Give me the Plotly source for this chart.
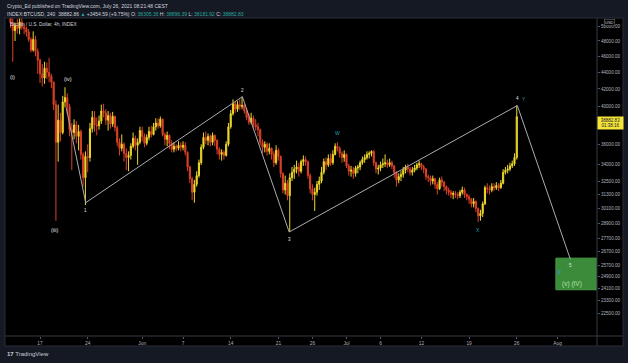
import math
import plotly.graph_objects as go
import pandas as pd

# ---------------- data (8h candles) ----------------
first_open = 56300
closes = [
    56200, 50500,                      # May 12 (08h,16h)
    49400, 50100, 49700,               # May 13
    50600, 49900, 49700,               # May 14
    49200, 48200, 46800,               # May 15
    48200, 46600, 45500,               # May 16
    43800, 43300, 44500,               # May 17
    44000, 43500, 42800,               # May 18
    40200, 36200, 38500,               # May 19
    37200, 40500, 41000,               # May 20
    40000, 37500, 37200,               # May 21
    38000, 36800, 37300,               # May 22
    35000, 32800, 34800,               # May 23
    34700, 37600, 38800,               # May 24
    38000, 37900, 38400,               # May 25
    39500, 39300, 38500,               # May 26
    39000, 38100, 38900,               # May 27
    37700, 36200, 35600,               # May 28
    36000, 35100, 34700,               # May 29
    34900, 35800, 36600,               # May 30
    35900, 36200, 37400,               # May 31
    36800, 36100, 36700,               # Jun 1
    37300, 37000, 37800,               # Jun 2
    38200, 37900, 38600,               # Jun 3
    37000, 36500, 36900,               # Jun 4
    36100, 35500, 35800,               # Jun 5
    35600, 35900, 35700,               # Jun 6
    35900, 35200, 33800,               # Jun 7
    32700, 31500, 32200,               # Jun 8
    33000, 34200, 35700,               # Jun 9
    36700, 36400, 36800,               # Jun 10
    36200, 36900, 36400,               # Jun 11
    35500, 35000, 35200,               # Jun 12
    34900, 36000, 37800,               # Jun 13
    39200, 40300, 39700,               # Jun 14
    40200, 40000, 40100,               # Jun 15
    39500, 38800, 38300,               # Jun 16
    38700, 38000, 37800,               # Jun 17
    37500, 36200, 35700,               # Jun 18
    36000, 35300, 35600,               # Jun 19
    35000, 34200, 35400,               # Jun 20
    34800, 33200, 31700,               # Jun 21
    32300, 31200, 32800,               # Jun 22
    33300, 33600, 33800,               # Jun 23
    33400, 34300, 34500,               # Jun 24
    34300, 33000, 31800,               # Jun 25
    31300, 31500, 32200,               # Jun 26
    32500, 33300, 34300,               # Jun 27
    34000, 34600, 34200,               # Jun 28
    35000, 35800, 35600,               # Jun 29
    35100, 34700, 35000,               # Jun 30
    33900, 33400, 33500,               # Jul 1
    33200, 33700, 33800,               # Jul 2
    34200, 34500, 34700,               # Jul 3
    35000, 35100, 35300,               # Jul 4
    34200, 33600, 33700,               # Jul 5
    34000, 34100, 34200,               # Jul 6
    34000, 34200, 33900,               # Jul 7
    33300, 32600, 32900,               # Jul 8
    33100, 33500, 33800,               # Jul 9
    33600, 33300, 33500,               # Jul 10
    33700, 34000, 34100,               # Jul 11
    33800, 33600, 32900,               # Jul 12
    32800, 32500, 32700,               # Jul 13
    32200, 31800, 32600,               # Jul 14
    32400, 32000, 31700,               # Jul 15
    31500, 31300, 31400,               # Jul 16
    31300, 31200, 31500,               # Jul 17
    31700, 31300, 31100,               # Jul 18
    30900, 30500, 30700,               # Jul 19
    30100, 29500, 29700,               # Jul 20
    30500, 31900, 31800,               # Jul 21
    31700, 32000, 31900,               # Jul 22
    32100, 31900, 32300,               # Jul 23
    33300, 33500, 33600,               # Jul 24
    33900, 34100, 34700,               # Jul 25
    38882.83,                          # Jul 26
]
highs = [
    57900, 56400,
    51300, 50500, 51000,
    51200, 51300, 50400,
    50000, 49600, 48500,
    49300, 48700, 47000,
    45700, 45000, 45300,
    45200, 45800, 43800,
    42900, 40700, 40200,
    39300, 41200, 42200,
    41500, 40300, 38200,
    38600, 38400, 38000,
    37500, 35200, 35300,
    36000, 38200, 39500,
    39500, 38800, 39000,
    40200, 40300, 39700,
    39500, 39300, 39400,
    39000, 37900, 36600,
    37000, 36200, 35600,
    35300, 36100, 37200,
    36900, 36600, 37800,
    37800, 37100, 37000,
    37800, 37900, 38200,
    38700, 38700, 38900,
    38700, 37200, 37300,
    37000, 36400, 36200,
    36000, 36300, 36200,
    36300, 36200, 35300,
    33900, 32900, 32600,
    33400, 34500, 36000,
    37200, 37300, 37100,
    37000, 37200, 37000,
    36500, 35700, 35500,
    35400, 36300, 38200,
    39600, 40800, 40600,
    40600, 40800, 41100,
    40300, 39800, 39200,
    39300, 39000, 38600,
    38200, 37600, 36500,
    36300, 36200, 36100,
    35700, 35300, 35900,
    35600, 34900, 33300,
    33000, 32600, 33200,
    33800, 34000, 34400,
    34200, 34500, 34900,
    34800, 34400, 33200,
    32200, 31900, 32500,
    32900, 33800, 34600,
    34700, 35000, 35100,
    35400, 36100, 36200,
    35800, 35300, 35400,
    35100, 34100, 33900,
    33800, 33900, 34000,
    34400, 34800, 35000,
    35300, 35300, 35400,
    35400, 34300, 34000,
    34300, 34600, 35000,
    34500, 34600, 34400,
    34000, 33400, 33200,
    33400, 33800, 34000,
    34100, 33800, 33800,
    34000, 34200, 34400,
    34200, 34000, 33700,
    33100, 33000, 33000,
    32800, 32400, 32800,
    32900, 32500, 32100,
    31900, 31700, 31600,
    31600, 31500, 31700,
    32000, 31900, 31400,
    31300, 31000, 31000,
    30800, 30200, 30000,
    30700, 32100, 32300,
    32100, 32300, 32300,
    32400, 32300, 32600,
    33600, 33800, 34000,
    34200, 34400, 35100,
    40100,
]
lows = [
    55500, 49800,
    45300, 48000, 49000,
    48900, 49500, 48900,
    48600, 47900, 46500,
    46600, 46000, 43800,
    42700, 42300, 42600,
    43200, 42800, 42100,
    39600, 29100, 34300,
    36300, 37000, 39900,
    39200, 36800, 33500,
    36500, 36100, 35400,
    34500, 32000, 30400,
    33300, 34300, 37200,
    37300, 36900, 37500,
    38100, 38800, 38000,
    37400, 37600, 37800,
    37300, 35800, 34900,
    35300, 34300, 33500,
    33400, 34500, 35600,
    35400, 34000, 36000,
    36300, 35700, 35900,
    36400, 36700, 36900,
    37400, 37600, 37700,
    36800, 35900, 35800,
    35500, 35200, 35200,
    35300, 35400, 35300,
    35400, 34900, 33400,
    32300, 30800, 30600,
    32000, 32800, 34000,
    35500, 36000, 35900,
    35800, 35900, 35800,
    35000, 34500, 34400,
    34500, 34800, 35800,
    37600, 39000, 39300,
    39400, 39600, 39700,
    39200, 38500, 38000,
    38100, 37700, 37400,
    36800, 35900, 35100,
    35200, 34900, 35000,
    34500, 33800, 34000,
    34400, 32800, 31400,
    31300, 30800, 28200,
    32500, 32700, 33200,
    32900, 33200, 33900,
    33900, 32700, 31400,
    30800, 29900, 31200,
    31700, 32300, 33100,
    33500, 33800, 33900,
    34000, 34900, 35300,
    34700, 34200, 34300,
    33700, 33000, 32900,
    32700, 32900, 33200,
    33500, 34000, 34200,
    34500, 34600, 34800,
    33900, 33200, 33100,
    33400, 33700, 33800,
    33700, 33800, 33600,
    32800, 32000, 32300,
    32500, 32800, 33200,
    33300, 33000, 33000,
    33300, 33500, 33700,
    33500, 33200, 32600,
    32400, 32100, 32200,
    31800, 31300, 31700,
    32000, 31600, 31300,
    31200, 31000, 30900,
    31000, 30900, 31000,
    31300, 31000, 30800,
    30500, 30200, 30200,
    29800, 29000, 29100,
    29400, 30400, 31400,
    31300, 31500, 31600,
    31700, 31600, 31800,
    32200, 33100, 33200,
    33400, 33700, 33900,
    34500,
]
opens = [first_open] + closes[:-1]
times = pd.date_range("2021-05-12 08:00", periods=len(closes), freq="8h")

# Elliott wave path (iv) -> 1 -> 2 -> 3 -> 4 -> 5
wave_dates = ["2021-05-20 20:00", "2021-05-23 17:00", "2021-06-15 17:00",
              "2021-06-22 14:00", "2021-07-26 02:00", "2021-08-02 20:40"]
wave_prices = [39900, 30600, 41100, 28200, 40100, 26150]
wave_names = ["", "1", "2", "3", "4", "5"]

# target zone
zone_start = "2021-07-31 18:00"
zone_end = "2021-08-08 00:00"
zone_high = 26220
zone_low = 24010

price_ticks = [50000, 48000, 46000, 44000, 42000, 40000, 36000, 34000, 32500,
               31300, 30100, 28900, 27700, 26700, 25700, 24900, 24100, 23300, 22500]
price_tick_labels = [f"{v:.2f}" for v in price_ticks]
date_ticks = ["2021-05-17", "2021-05-24", "2021-06-01", "2021-06-07", "2021-06-14",
              "2021-06-21", "2021-06-26", "2021-07-01", "2021-07-06", "2021-07-12",
              "2021-07-19", "2021-07-26", "2021-08-01"]
date_tick_labels = ["17", "24", "Jun", "7", "14", "21", "26", "Jul", "6", "12", "19", "26", "Aug"]
last_price = 38882.83

# ---------------- styling ----------------
FONT = "Liberation Sans, Arial, sans-serif"
INC = "#ecd82a"
DEC = "#dd4128"
TEAL = "#22a6b3"
GRAYTXT = "#b2b5be"
NAVY = "#151924"
SEP = "#363a45"

fig = go.Figure()
fig.add_trace(go.Candlestick(
    x=times, open=opens, high=highs, low=lows, close=closes,
    increasing=dict(line=dict(color=INC, width=1), fillcolor=INC),
    decreasing=dict(line=dict(color=DEC, width=1), fillcolor=DEC),
    whiskerwidth=0, showlegend=False, hoverinfo="skip"))

fig.add_trace(go.Scatter(
    x=wave_dates, y=wave_prices, mode="lines",
    line=dict(color="#a9acb4", width=1), showlegend=False, hoverinfo="skip"))

shapes = [
    dict(type="rect", xref="paper", yref="paper", x0=0, x1=1.0439, y0=-0.0315, y1=1.0,
         fillcolor="#000000", line=dict(width=0), layer="below"),
    dict(type="rect", xref="x", yref="y", x0=zone_start, x1=zone_end,
         y0=zone_low, y1=zone_high, fillcolor="#3b8b3a", line=dict(color="#4a9e47", width=1),
         layer="below"),
    dict(type="line", xref="paper", yref="paper", x0=1.0, x1=1.0, y0=-0.0315, y1=1.0,
         line=dict(color=SEP, width=1)),
    dict(type="line", xref="paper", yref="paper", x0=0, x1=1.0439, y0=0.0, y1=0.0,
         line=dict(color=SEP, width=1)),
    dict(type="rect", xref="paper", yref="paper", x0=0, x1=1.0439, y0=-0.0315, y1=1.0,
         line=dict(color="#2a2e39", width=1)),
]

ann = []
def txt(text, x, y, size=5, color="#d1d4dc", xref="x", yref="y", xanchor="center",
        yanchor="middle", xshift=0, yshift=0, **kw):
    if yref == "y":
        y = math.log10(y)  # annotations on a log axis take log10 positions
    ann.append(dict(text=text, x=x, y=y, xref=xref, yref=yref, showarrow=False,
                    xanchor=xanchor, yanchor=yanchor, xshift=xshift, yshift=yshift,
                    font=dict(family=FONT, size=size, color=color), **kw))

# header
txt("Crypto_Ed published on TradingView.com, July 26, 2021 08:21:48 CEST",
    0, 1.0377, size=5, color="#d1d4dc", xref="paper", yref="paper", xanchor="left")
hdr2 = ('INDEX:BTCUSD, 240 &nbsp;38882.86 <span style="color:#26a69a">▲</span> +3454.59 (+9.75%) '
        'O: <span style="color:#26a69a">38305.36</span> H: <span style="color:#26a69a">38896.39</span> '
        'L: <span style="color:#26a69a">38181.92</span> C: <span style="color:#26a69a">38882.83</span>')
txt(hdr2, 0, 1.0126, size=5, color="#d1d4dc", xref="paper", yref="paper", xanchor="left")
txt("Bitcoin / U.S. Dollar, 4h, INDEX", 0.005, 0.9796, size=4.8, color="#d1d4dc",
    xref="paper", yref="paper", xanchor="left")
txt("<b>17</b> TradingView", 0, -0.0566, size=6, color="#c9ccd4",
    xref="paper", yref="paper", xanchor="left")

# wave labels
txt("(i)", "2021-05-13 00:45", 43400, size=5.5, color="#e6e6e6")
txt("(iv)", "2021-05-21 01:40", 43170, size=5.5, color="#e6e6e6")
txt("(iii)", "2021-05-19 01:25", 28390, size=5.5, color="#e6e6e6")
wave_shift = [0, -8, 6, -7, 7, -6]
for d, p, n, s in zip(wave_dates, wave_prices, wave_names, wave_shift):
    if n:
        txt(n, d, p, size=4.5, color="#e6e6e6", yshift=s)
txt("W", "2021-06-29 16:00", 36150, size=5, color=TEAL, yshift=10)
txt("X", "2021-07-20 08:00", 28900, size=5, color=TEAL, yshift=-7)
txt("Y", wave_dates[4], wave_prices[4], size=5, color=TEAL, xshift=7, yshift=7)
txt("Z", "2021-08-01 06:00", 25250, size=5, color="#4a8cff")
txt("(v) (IV)", "2021-08-03 02:40", 24390, size=6.5, color="#b9e0b0")

# price label and USD badge
txt("38882.83<br>01:38:16", 1.0, last_price, size=4.5, color="#131722", xref="paper",
    yref="y", xanchor="left", yshift=-6.5, bgcolor="#f4e43a", borderpad=0.5,
    width=24, align="center")
txt("USD", 1.0203, 0.9874, size=4, color="#d1d4dc", xref="paper", yref="paper",
    bgcolor="#000000", bordercolor="#787b86", borderwidth=0.5, borderpad=0.5)

fig.update_layout(
    width=628, height=363,
    margin=dict(l=5, r=31, t=18, b=27, pad=0),
    paper_bgcolor=NAVY, plot_bgcolor="#000000",
    showlegend=False, shapes=shapes, annotations=ann,
    font=dict(family=FONT, size=5, color=GRAYTXT),
    xaxis=dict(type="date", range=["2021-05-11 20:35", "2021-08-06 18:45"],
               tickmode="array", tickvals=date_ticks, ticktext=date_tick_labels,
               showgrid=False, zeroline=False, showline=False,
               ticks="outside", ticklen=2, tickcolor="#555a66",
               tickfont=dict(family=FONT, size=4.8, color=GRAYTXT),
               rangeslider=dict(visible=False), fixedrange=True),
    yaxis=dict(type="log", range=[4.32449, 4.70902], side="right",
               tickmode="array", tickvals=price_ticks, ticktext=price_tick_labels,
               showgrid=False, zeroline=False, showline=False,
               ticks="outside", ticklen=2, tickcolor="#555a66",
               tickfont=dict(family=FONT, size=4.6, color=GRAYTXT), fixedrange=True),
)

fig.write_html("out.html", config={"displayModeBar": False},
               post_script="document.body.style.margin='0';document.body.style.padding='0';"
                           "document.documentElement.style.background='#151924';")
